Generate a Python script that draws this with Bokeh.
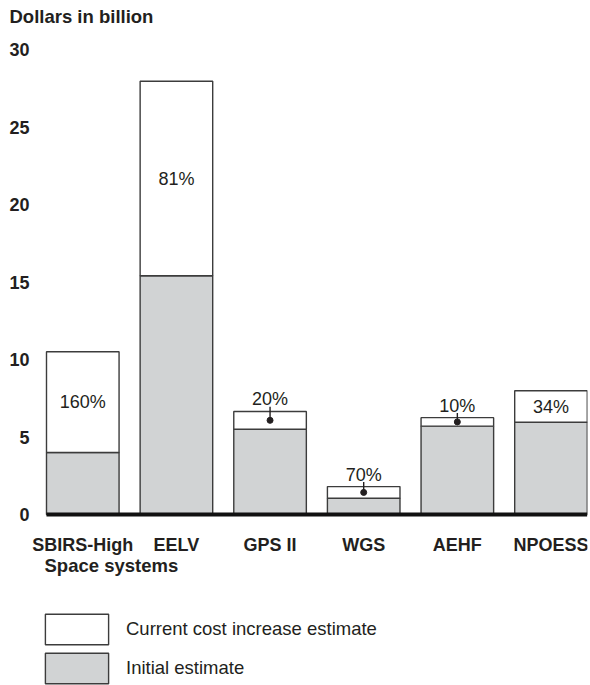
from bokeh.plotting import figure
from bokeh.models import ColumnDataSource, Range1d, FixedTicker, Legend, LegendItem, Label
from bokeh.embed import file_html
from bokeh.resources import INLINE
from bokeh.core.properties import value

# ---- data ----
systems = ["SBIRS-High", "EELV", "GPS II", "WGS", "AEHF", "NPOESS"]
initial_estimate = [4.0, 15.4, 5.5, 1.05, 5.7, 5.95]
current_estimate = [10.5, 27.95, 6.65, 1.8, 6.25, 7.98]
pct_increase = ["160%", "81%", "20%", "70%", "10%", "34%"]
label_inside = [True, True, False, False, False, True]
y_ticks = [0, 5, 10, 15, 20, 25, 30]
legend_labels = ["Current cost increase estimate", "Initial estimate"]
y_title = "Dollars in billion"
x_title = "Space systems"

# ---- style ----
FONT = "Liberation Sans"
TXT = "#231f20"
GRAY = "#d1d3d4"
EDGE = "#3c3c3c"
BAR_W = 0.775
LEADER_EXT = 0.3  # leader line extends slightly above bar top (data units)

xs = list(range(len(systems)))
mid = [(a + b) / 2 for a, b in zip(initial_estimate, current_estimate)]

src = ColumnDataSource(dict(x=xs, initial=initial_estimate, current=current_estimate,
                            mid=mid, pct=pct_increase, name=systems, zero=[0] * len(xs)))

in_idx = [i for i, f in enumerate(label_inside) if f]
out_idx = [i for i, f in enumerate(label_inside) if not f]
src_in = ColumnDataSource(dict(x=[xs[i] for i in in_idx], y=[mid[i] for i in in_idx],
                               t=[pct_increase[i] for i in in_idx]))
src_out = ColumnDataSource(dict(x=[xs[i] for i in out_idx],
                                top=[current_estimate[i] for i in out_idx],
                                lead=[current_estimate[i] + LEADER_EXT for i in out_idx],
                                mid=[mid[i] for i in out_idx],
                                t=[pct_increase[i] for i in out_idx]))
base_src = ColumnDataSource(dict(x0=[xs[0] - BAR_W / 2], x1=[xs[-1] + BAR_W / 2], y=[0]))

# frame spans the whole lower area so that the key and captions sit inside it
p = figure(width=590, height=685, x_range=Range1d(-0.569, 5.39), y_range=Range1d(-11.032, 31.355),
           x_axis_type=None, output_backend="svg", toolbar_location=None,
           min_border_left=29, min_border_right=3, min_border_top=28, min_border_bottom=0)
p.xgrid.visible = False
p.ygrid.visible = False
p.outline_line_color = None

# units title
p.title.text = y_title
p.title.align = "left"
p.title.offset = -20
p.title.standoff = 3
p.title.text_font = FONT
p.title.text_font_size = "18.5px"
p.title.text_font_style = "bold"
p.title.text_color = TXT

r_init = p.vbar(x="x", width=BAR_W, bottom=0, top="initial", source=src,
                fill_color=GRAY, line_color=EDGE, line_width=1.4)
r_cur = p.vbar(x="x", width=BAR_W, bottom="initial", top="current", source=src,
               fill_color="white", line_color=EDGE, line_width=1.4)
p.segment(x0="x0", y0="y", x1="x1", y1="y", source=base_src, line_color="#111111",
          line_width=4)

# percent labels
p.text(x="x", y="y", text="t", source=src_in, text_font=value(FONT), text_font_size="18px",
       text_color=TXT, text_align="center", text_baseline="middle")
p.segment(x0="x", y0="mid", x1="x", y1="lead", source=src_out, line_color=TXT, line_width=1.4)
p.scatter(x="x", y="mid", source=src_out, size=6, fill_color=TXT, line_color=TXT)
p.text(x="x", y="top", text="t", source=src_out, text_font=value(FONT), text_font_size="18px",
       text_color=TXT, text_align="center", text_baseline="middle", y_offset=-12)

# category labels under each bar
p.text(x="x", y="zero", text="name", source=src, text_font=value(FONT), text_font_size="18px",
       text_font_style="bold", text_color=TXT, text_align="center", text_baseline="middle",
       y_offset=30)

# y axis
ya = p.yaxis[0]
ya.ticker = FixedTicker(ticks=y_ticks)
ya.axis_line_color = None
ya.major_tick_in = 0
ya.major_tick_out = 0
ya.minor_tick_in = 0
ya.minor_tick_out = 0
ya.major_label_standoff = 0
ya.major_label_text_font = FONT
ya.major_label_text_font_size = "18px"
ya.major_label_text_font_style = "bold"
ya.major_label_text_color = TXT

# axis caption
p.add_layout(Label(x=15, y=120, x_units="screen", y_units="screen", text=x_title,
                   text_font=FONT, text_font_size="18.5px", text_font_style="bold",
                   text_color=TXT, text_baseline="middle", text_align="left"))

# key
legend = Legend(items=[LegendItem(label=legend_labels[0], renderers=[r_cur]),
                       LegendItem(label=legend_labels[1], renderers=[r_init])],
                location=(8, -2), orientation="vertical",
                glyph_width=79, glyph_height=38, spacing=1, padding=0, margin=0,
                label_standoff=10, label_text_font=FONT, label_text_font_size="18.5px",
                label_text_color=TXT, border_line_color=None, background_fill_alpha=0)
p.add_layout(legend)

open("out.html", "w").write(file_html(p, INLINE))
